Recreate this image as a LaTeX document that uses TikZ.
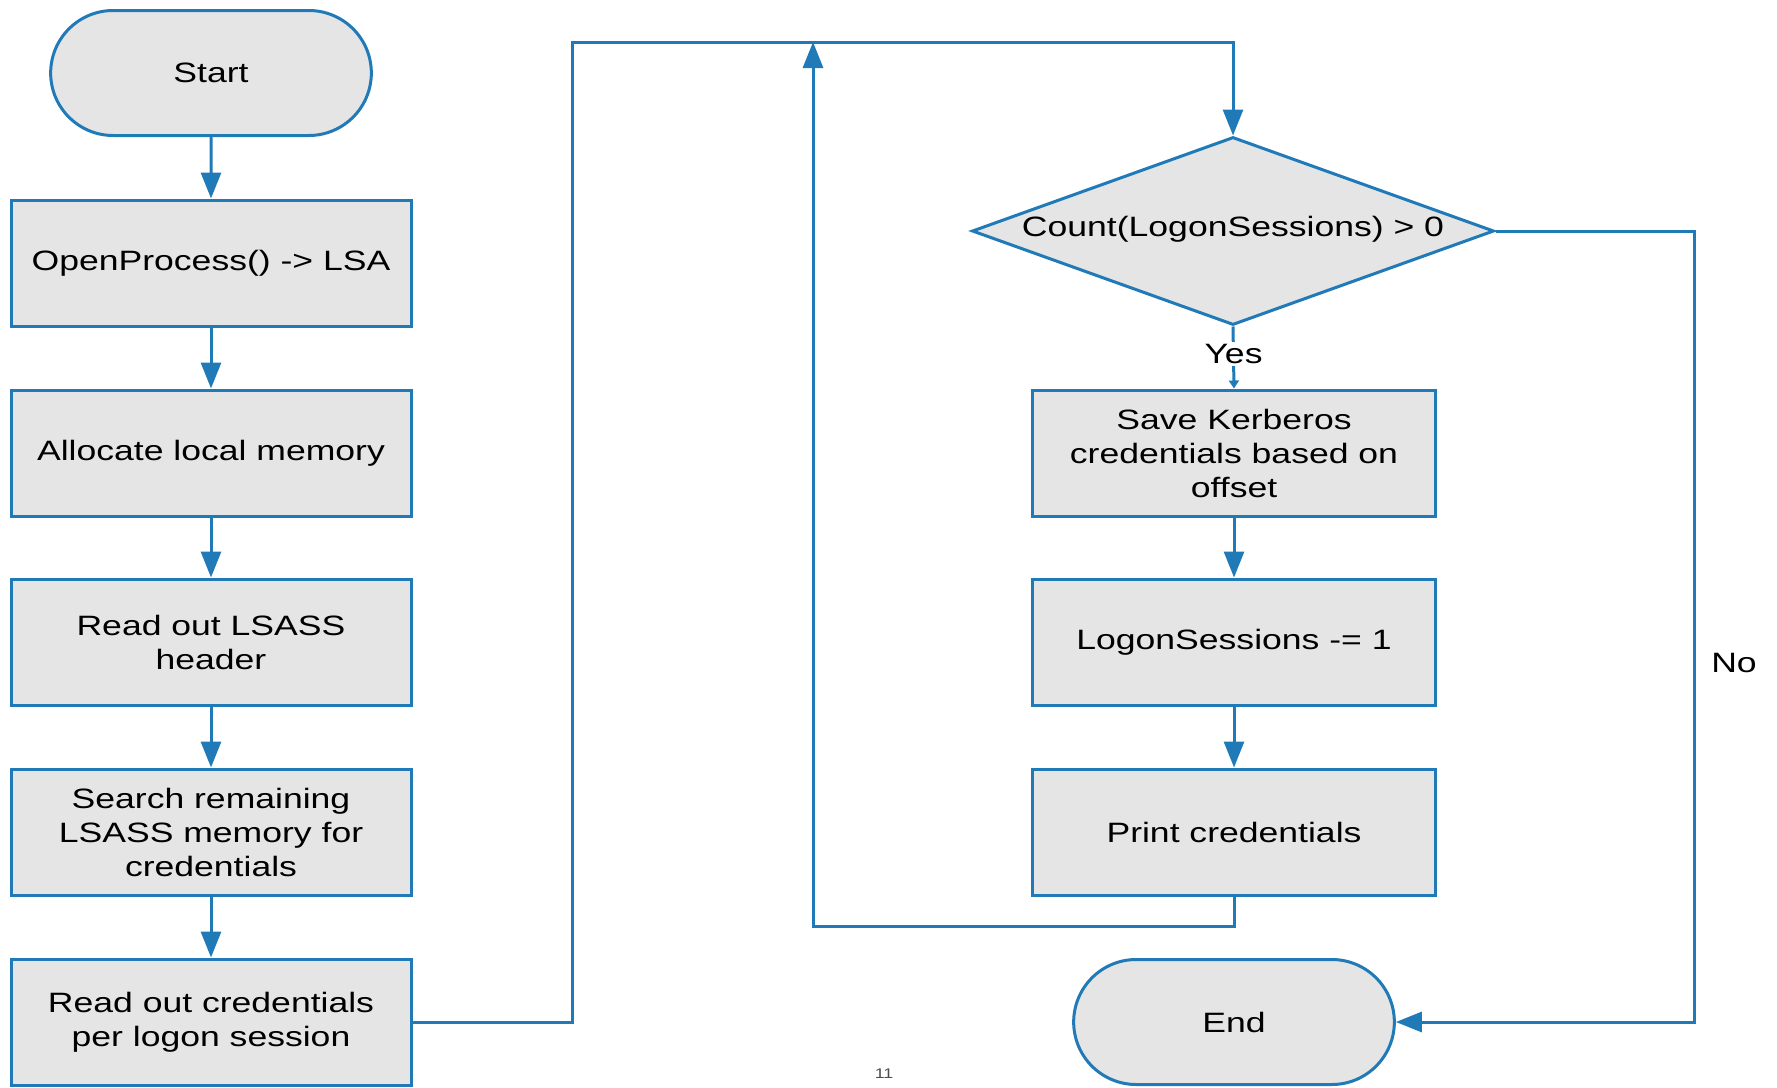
\documentclass[tikz,border=0pt]{standalone}
\usepackage{fontspec}
\setmainfont{Liberation Sans}[FakeStretch=1.27]
\usetikzlibrary{shapes.geometric,shapes.misc,arrows.meta}
\definecolor{flowline}{RGB}{32,122,184}
\definecolor{flowfill}{RGB}{229,229,229}

\begin{document}
\begin{tikzpicture}[x=0.5pt,y=-0.5pt,
		txt/.style={font=\fontsize{14}{17}\selectfont},
		box/.style={txt,draw=flowline,fill=flowfill,line width=1.5pt,minimum width=200pt,minimum height=63pt,align=center,inner sep=0pt},
		rbox/.style={box,minimum width=201.5pt},
		term/.style={txt,rounded rectangle,draw=flowline,fill=flowfill,line width=1.5pt,minimum width=167pt,minimum height=62.5pt},
		flow/.style={draw=flowline,line width=1.5pt,-{Triangle[length=13pt,width=10pt]}},
		wire/.style={draw=flowline,line width=1.5pt}]
		\useasboundingbox (0,0) rectangle (1777,1087);
		\node[term] (start) at (211,73) {Start};
		\node[box] (open) at (211,263) {OpenProcess() -> LSA};
		\node[box] (alloc) at (211,453) {Allocate local memory};
		\node[box] (header) at (211,642) {Read out LSASS\\header};
		\node[box] (search) at (211,832) {Search remaining\\LSASS memory for\\credentials};
		\node[box] (readout) at (211,1022) {Read out credentials\\per logon session};
		\node[diamond,draw=flowline,fill=flowfill,line width=1.5pt,minimum width=261pt,minimum height=94pt,inner sep=0pt] (count) at (1233,231) {};
		\node[txt] (counttext) at (1233,229) {Count(LogonSessions) > 0};
		\node[rbox] (save) at (1234,453) {Save Kerberos\\credentials based on\\offset};
		\node[rbox] (dec) at (1234,642) {LogonSessions -= 1};
		\node[rbox] (print) at (1234,832) {Print credentials};
		\node[term] (stop) at (1234,1022) {End};
		\coordinate (topleft) at (572,42);
		\coordinate (loopbottom) at (813,926);
		\coordinate (looptop) at (813,42);
		\coordinate (noside) at (1694,1022);
		\node[txt] (no) at (1734,663) {No};
		\node[font=\fontsize{7}{8}\selectfont,text=black!70] (page) at (884,1074) {11};
		
		\draw[flow] (start) -- (open);
		\draw[flow] (open) -- (alloc);
		\draw[flow] (alloc) -- (header);
		\draw[flow] (header) -- (search);
		\draw[flow] (search) -- (readout);
		\draw[flow] (readout.east) -| (topleft) -| (count.north);
		\draw[draw=flowline,line width=1.5pt,-{Triangle[length=4pt,width=5pt]}] (count.south) -- (save.north) node[txt,midway,fill=white,inner sep=1pt,yshift=1.7pt] (yes) {Yes};
		\draw[flow] (save) -- (dec);
		\draw[flow] (dec) -- (print);
		\draw[flow] (print.south) |- (loopbottom) -- (looptop);
		\draw[flow] (count.east) -| (noside) -- (stop.east);
	\end{tikzpicture}
\end{document}
